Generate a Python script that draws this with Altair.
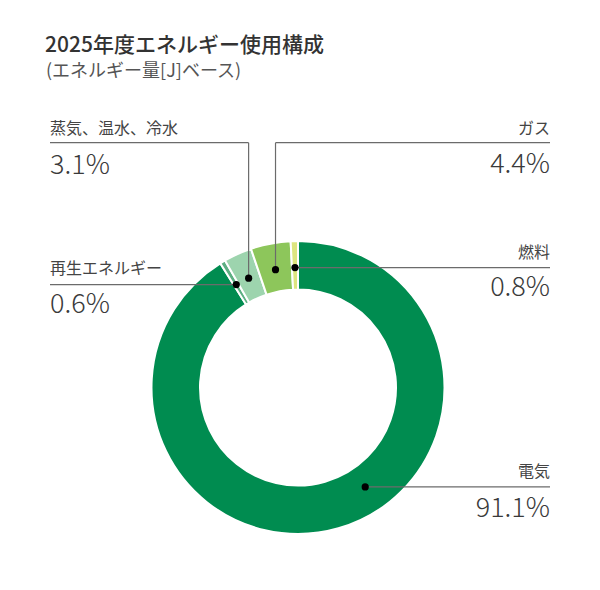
import numpy as np
import pandas as pd
import altair as alt

## Data
categories = ["電気", "再生エネルギー", "蒸気、温水、冷水", "ガス", "燃料"]
shares = [91.1, 0.6, 3.1, 4.4, 0.8]
value_labels = ["91.1%", "0.6%", "3.1%", "4.4%", "0.8%"]
colors = ["#008C50", "#5DAF82", "#9DD4AE", "#8DC65B", "#DDE580"]

title_text = "2025年度エネルギー使用構成"
subtitle_text = "(エネルギー量[J]ベース)"

## Layout (chart pixels, origin at top-left of the view)
W, H = 584, 574
cx, cy = 290, 379.5
r_out, r_in = 146.5, 98
r_dot = 120
dot_at = [0.445, 0.5, 0.5, 0.5, 0.5]   # where the dot sits inside each slice
side = ["right", "left", "left", "right", "right"]
elbow_y = [None, None, 134.7, 134.7, None]   # leaders that bend up to this y
label_y = [469, 265.5, 125.5, 125.5, 249.5]
value_y = [509, 305, 166, 165, 288]
left_x, right_x = 42, 542

FONT = "Noto Sans CJK JP"

# slices
df = pd.DataFrame({"name": categories, "share": shares, "idx": range(len(shares))})

# dots at the middle of the ring, angle from 12 o'clock clockwise
start = np.cumsum([0] + shares[:-1])
frac = (start + np.array(dot_at) * np.array(shares)) / 100
ang = frac * 2 * np.pi
dots = pd.DataFrame({
    "name": categories,
    "px": cx + r_dot * np.sin(ang),
    "py": cy - r_dot * np.cos(ang),
})

# leader lines
segs = []
for i, name in enumerate(categories):
    px, py = dots.loc[i, "px"], dots.loc[i, "py"]
    end_x = right_x if side[i] == "right" else left_x
    if elbow_y[i] is None:
        segs.append({"x": px, "y": py, "x2": end_x, "y2": py})
    else:
        segs.append({"x": px, "y": py, "x2": px, "y2": elbow_y[i]})
        segs.append({"x": px, "y": elbow_y[i], "x2": end_x, "y2": elbow_y[i]})
lines = pd.DataFrame(segs)

labels = pd.DataFrame({
    "name": categories,
    "value": value_labels,
    "side": side,
    "tx": [right_x if s == "right" else left_x for s in side],
    "ly": label_y,
    "vy": value_y,
})

xs = alt.Scale(domain=[0, W], range=[0, W])
ys = alt.Scale(domain=[0, H], range=[0, H])

donut = alt.Chart(df).mark_arc(
    outerRadius=r_out, innerRadius=r_in, stroke="white", strokeWidth=2
).encode(
    theta=alt.Theta("share:Q"),
    order=alt.Order("idx:Q"),
    color=alt.Color("name:N", scale=alt.Scale(domain=categories, range=colors), legend=None),
    x=alt.value(cx),
    y=alt.value(cy),
)

rules = alt.Chart(lines).mark_rule(color="#6b6b6b", strokeWidth=1.2).encode(
    x=alt.X("x:Q", scale=xs, axis=None),
    y=alt.Y("y:Q", scale=ys, axis=None),
    x2="x2:Q",
    y2="y2:Q",
)

points = alt.Chart(dots).mark_circle(color="black", opacity=1, size=52).encode(
    x=alt.X("px:Q", scale=xs, axis=None),
    y=alt.Y("py:Q", scale=ys, axis=None),
)

def text_layer(field, yfield, align, size, color, weight):
    return alt.Chart(labels).transform_filter(
        alt.datum.side == ("right" if align == "right" else "left")
    ).mark_text(
        align=align, baseline="alphabetic", font=FONT, fontSize=size,
        color=color, fontWeight=weight
    ).encode(
        x=alt.X("tx:Q", scale=xs, axis=None),
        y=alt.Y(yfield + ":Q", scale=ys, axis=None),
        text=field + ":N",
    )

name_l = text_layer("name", "ly", "left", 16, "#444444", "normal")
name_r = text_layer("name", "ly", "right", 16, "#444444", "normal")
val_l = text_layer("value", "vy", "left", 27, "#3a3a3a", 300)
val_r = text_layer("value", "vy", "right", 27, "#3a3a3a", 300)

title = alt.Chart(pd.DataFrame({"t": [title_text]})).mark_text(
    align="left", baseline="alphabetic", font=FONT, fontSize=21,
    fontWeight=500, color="#333333"
).encode(x=alt.value(37), y=alt.value(43.5), text="t:N")

subtitle = alt.Chart(pd.DataFrame({"t": [subtitle_text]})).mark_text(
    align="left", baseline="alphabetic", font=FONT, fontSize=18, color="#555555"
).encode(x=alt.value(38), y=alt.value(68.5), text="t:N")

chart = alt.layer(
    donut, rules, points, name_l, name_r, val_l, val_r, title, subtitle
).properties(
    width=W, height=H, padding=0, autosize="none"
).configure_view(stroke=None)

chart.save("out.html", embed_options={"renderer": "svg", "actions": False})
